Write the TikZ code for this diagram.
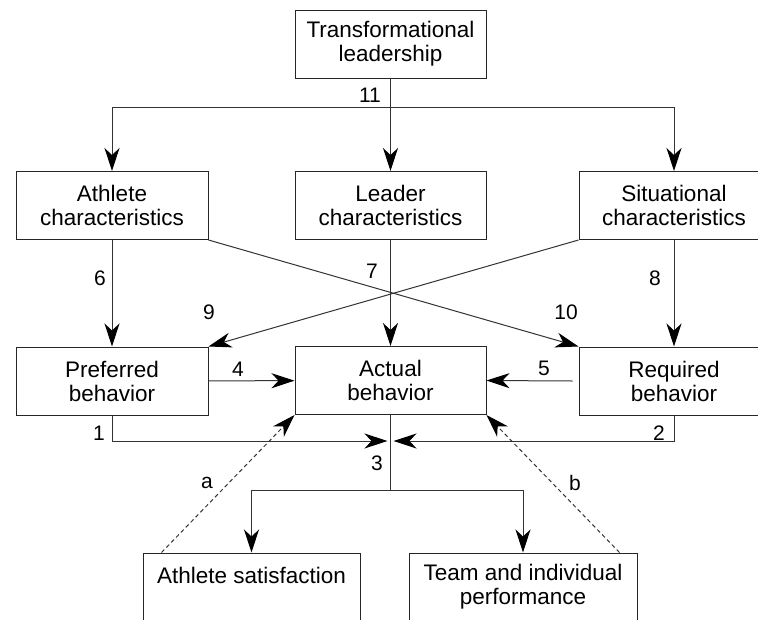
\documentclass[tikz,border=0pt]{standalone}
\usepackage{fontspec}
\setmainfont{Liberation Sans}
\usetikzlibrary{arrows.meta}

\begin{document}
\begin{tikzpicture}[>={Stealth[length=23pt,width=15pt,inset=7pt,color=black]}, x=1pt, y=-1pt,
    box/.style={draw=black!85, line width=1pt, minimum height=68pt, align=center, inner sep=0pt, font=\fontsize{22.5}{24}\selectfont},
    lbl/.style={font=\fontsize{21}{23}\selectfont, inner sep=0pt},
    link/.style={line width=1pt, draw=black!80},
    fb/.style={->, line width=1pt, draw=black!80, dash pattern=on 4pt off 3pt}]

    \useasboundingbox (0,0) rectangle (758,619);
    \clip (0,0) rectangle (758,619);

    % Boxes
    \node[box, minimum width=191pt] (tl) at (390.5,44) {Transformational\\leadership};
    \node[box, minimum width=192pt] (ath) at (112,205.5) {Athlete\\characteristics};
    \node[box, minimum width=191pt] (lead) at (390.5,205.5) {Leader\\characteristics};
    \node[box, minimum width=190pt] (sit) at (674,205.5) {Situational\\characteristics};
    \node[box, minimum width=192pt] (pref) at (112,381) {Preferred\\behavior};
    \node[box, minimum width=191pt] (act) at (390.5,380.5) {Actual\\behavior};
    \node[box, minimum width=190pt] (req) at (674,381) {Required\\behavior};
    \node[box, minimum width=217pt] (sat) at (251.5,587) {Athlete satisfaction\\ {}};
    \node[box, minimum width=228pt] (perf) at (523,587) {Team and individual\\performance};

    \coordinate (split) at (390.5,107);
    \coordinate (jn) at (390.5,441);
    \coordinate (br) at (390.5,490);

    % Transformational leadership
    \draw[link] (tl) -- (split);
    \draw[link, ->] (split) -| (ath);
    \draw[link, ->] (split) -- (lead);
    \draw[link, ->] (split) -| (sit);

    % Characteristics to behaviors
    \draw[link, ->] (ath) -- (pref);
    \draw[link, ->] (lead) -- (act);
    \draw[link, ->] (sit) -- (req);
    \draw[link, ->] (ath.south east) -- (req.north west);
    \draw[link, ->] (sit.south west) -- (pref.north east);

    % Behaviors
    \draw[link, ->] (pref) -- (act);
    \draw[link, ->] ([xshift=-6pt]req.west) -- (act.east);
    \draw[link, ->] (pref) |- ([xshift=-3pt]jn);
    \draw[link, ->] (req) |- ([xshift=3pt]jn);
    \draw[link] (act) -- (br);
    \draw[link, ->] (br) -| (sat);
    \draw[link, ->] (br) -| (perf);

    % Feedback
    \draw[fb] ([xshift=19pt]sat.north west) -- (act.south west);
    \draw[fb] ([xshift=-18pt]perf.north east) -- (act.south east);

    % Labels
    \node[lbl] (n11) at (370,95) {11};
    \node[lbl] (n6) at (100,278) {6};
    \node[lbl] (n7) at (372,271) {7};
    \node[lbl] (n8) at (655,278) {8};
    \node[lbl] (n9) at (209,312) {9};
    \node[lbl] (n10) at (566,312) {10};
    \node[lbl] (n4) at (238,369) {4};
    \node[lbl] (n5) at (544,368) {5};
    \node[lbl] (n1) at (99,433) {1};
    \node[lbl] (n2) at (659,433) {2};
    \node[lbl] (n3) at (377,463) {3};
    \node[lbl] (na) at (207,483) {a};
    \node[lbl] (nb) at (575,483) {b};
\end{tikzpicture}
\end{document}
